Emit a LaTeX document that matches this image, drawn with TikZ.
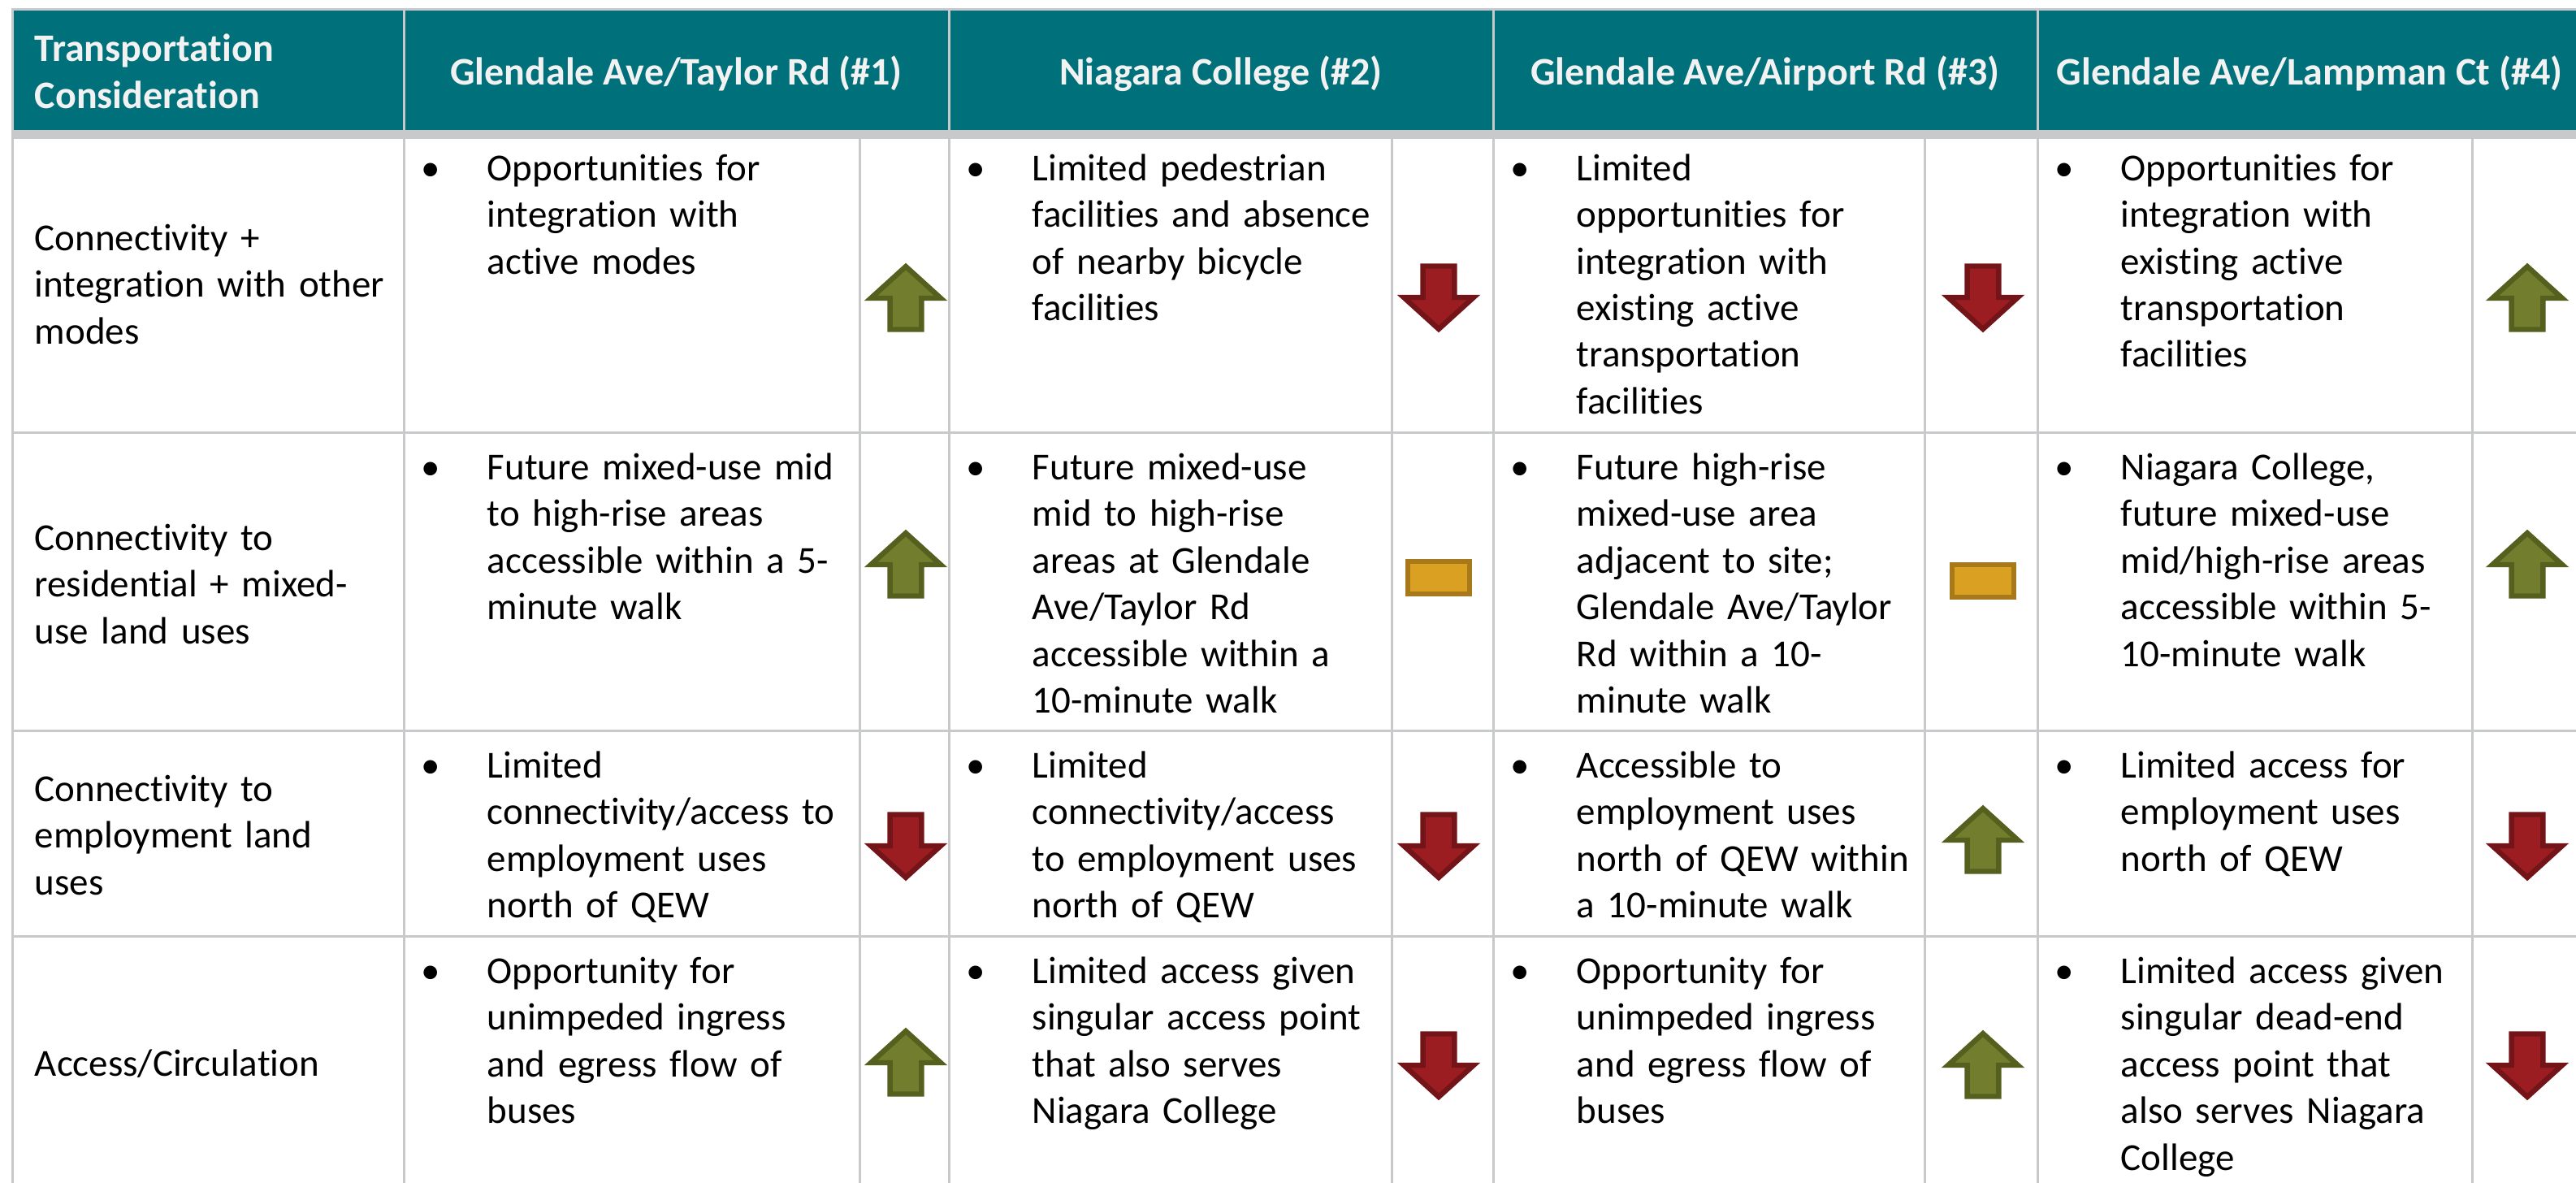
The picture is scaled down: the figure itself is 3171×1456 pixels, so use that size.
\documentclass[tikz,border=0pt]{standalone}
\usepackage{fontspec}
\setmainfont{Carlito}[Ligatures=NoCommon]
\definecolor{tealhd}{HTML}{00707A}
\definecolor{gridg}{HTML}{C8C9CB}
\definecolor{upfill}{HTML}{737D2E}
\definecolor{updraw}{HTML}{55601F}
\definecolor{dnfill}{HTML}{9B1D22}
\definecolor{dndraw}{HTML}{731419}
\definecolor{midfill}{HTML}{DAA022}
\definecolor{middraw}{HTML}{A8791A}
\newcommand{\bodyfont}{\fontsize{11.75pt}{14.375pt}\selectfont}
\newcommand{\headfont}{\fontsize{12pt}{14.5pt}\selectfont\bfseries}
\begin{document}
\begin{tikzpicture}[x=0.25pt,y=-0.25pt,
  bodytxt/.style={anchor=base west, inner sep=0pt, align=left, text width=150pt, font=\bodyfont},
  bul/.style={anchor=base, inner sep=0pt, font=\bodyfont},
  headtxt/.style={anchor=base, inner sep=0pt, font=\headfont, text=white!95!black},
  gridline/.style={draw=gridg, line width=0.75pt},
  uparw/.pic={\draw[draw=updraw, fill=upfill, line width=1.6pt, line join=miter]
     (0,5) -- (43,44) -- (19.4,44) -- (19.4,82.5) -- (-19.4,82.5) -- (-19.4,44) -- (-43,44) -- cycle;},
  dnarw/.pic={\draw[draw=dndraw, fill=dnfill, line width=1.6pt, line join=miter]
     (0,80) -- (43,41) -- (19.4,41) -- (19.4,2.5) -- (-19.4,2.5) -- (-19.4,41) -- (-43,41) -- cycle;},
  midbar/.pic={\draw[draw=middraw, fill=midfill, line width=1.6pt, line join=miter]
     (-38.25,-20.25) rectangle (38.25,20.25);}
]
\useasboundingbox (0,0) rectangle (3171,1456);
\clip (0,0) rectangle (3171,1456);
% header background
\fill[tealhd] (15,12) rectangle (3185,161);
\fill[gridg] (15,160) rectangle (3185,170.5);
% grid
\draw[gridline] (15,11.5) -- (3185,11.5);
\foreach \yy in {532,899,1152} \draw[gridline] (15,\yy) -- (3185,\yy);
\foreach \xx in {15,497.5,1168,1838,2508} \draw[gridline] (\xx,10) -- (\xx,1470);
\foreach \xx in {1058,1713,2369,3043} \draw[gridline] (\xx,161) -- (\xx,1470);
% header text
\node[headtxt, anchor=base west, align=left, text width=150pt] (h0) at (42,75) {Transportation\\Consideration};
\node[headtxt] (h1) at (832.5,104.5) {Glendale Ave/Taylor Rd (\#1)};
\node[headtxt] (h2) at (1503,104.5) {Niagara College (\#2)};
\node[headtxt] (h3) at (2173,104.5) {Glendale Ave/Airport Rd (\#3)};
\node[headtxt] (h4) at (2843,104.5) {Glendale Ave/Lampman Ct (\#4)};
% column 1
\node[bodytxt] (r1c0) at (42,308) {Connectivity +\\integration with other\\modes};
\node[bodytxt] (r2c0) at (42,677) {Connectivity to\\residential + mixed-\\use land uses};
\node[bodytxt] (r3c0) at (42,986) {Connectivity to\\employment land\\uses};
\node[bodytxt] (r4c0) at (42,1324) {Access/Circulation};
% row 1
\node[bul] (b11) at (530,222) {•};
\node[bodytxt] (r1c1) at (599,222) {Opportunities for\\integration with\\active modes};
\node[bul] (b12) at (1201,222) {•};
\node[bodytxt] (r1c2) at (1270,222) {Limited pedestrian\\facilities and absence\\of nearby bicycle\\facilities};
\node[bul] (b13) at (1871,222) {•};
\node[bodytxt] (r1c3) at (1940,222) {Limited\\opportunities for\\integration with\\existing active\\transportation\\facilities};
\node[bul] (b14) at (2541,222) {•};
\node[bodytxt] (r1c4) at (2610,222) {Opportunities for\\integration with\\existing active\\transportation\\facilities};
% row 2
\node[bul] (b21) at (530,590) {•};
\node[bodytxt] (r2c1) at (599,590) {Future mixed-use mid\\to high-rise areas\\accessible within a 5-\\minute walk};
\node[bul] (b22) at (1201,590) {•};
\node[bodytxt] (r2c2) at (1270,590) {Future mixed-use\\mid to high-rise\\areas at Glendale\\Ave/Taylor Rd\\accessible within a\\10-minute walk};
\node[bul] (b23) at (1871,590) {•};
\node[bodytxt] (r2c3) at (1940,590) {Future high-rise\\mixed-use area\\adjacent to site;\\Glendale Ave/Taylor\\Rd within a 10-\\minute walk};
\node[bul] (b24) at (2541,590) {•};
\node[bodytxt] (r2c4) at (2610,590) {Niagara College,\\future mixed-use\\mid/high-rise areas\\accessible within 5-\\10-minute walk};
% row 3
\node[bul] (b31) at (530,957) {•};
\node[bodytxt] (r3c1) at (599,957) {Limited\\connectivity/access to\\employment uses\\north of QEW};
\node[bul] (b32) at (1201,957) {•};
\node[bodytxt] (r3c2) at (1270,957) {Limited\\connectivity/access\\to employment uses\\north of QEW};
\node[bul] (b33) at (1871,957) {•};
\node[bodytxt] (r3c3) at (1940,957) {Accessible to\\employment uses\\north of QEW within\\a 10-minute walk};
\node[bul] (b34) at (2541,957) {•};
\node[bodytxt] (r3c4) at (2610,957) {Limited access for\\employment uses\\north of QEW};
% row 4
\node[bul] (b41) at (530,1210) {•};
\node[bodytxt] (r4c1) at (599,1210) {Opportunity for\\unimpeded ingress\\and egress flow of\\buses};
\node[bul] (b42) at (1201,1210) {•};
\node[bodytxt] (r4c2) at (1270,1210) {Limited access given\\singular access point\\that also serves\\Niagara College};
\node[bul] (b43) at (1871,1210) {•};
\node[bodytxt] (r4c3) at (1940,1210) {Opportunity for\\unimpeded ingress\\and egress flow of\\buses};
\node[bul] (b44) at (2541,1210) {•};
\node[bodytxt] (r4c4) at (2610,1210) {Limited access given\\singular dead-end\\access point that\\also serves Niagara\\College};
% rating symbols
\pic at (1115,323) {uparw};
\pic at (1771,325) {dnarw};
\pic at (2441,325) {dnarw};
\pic at (3111,323) {uparw};
\pic at (1115,651) {uparw};
\pic at (1771,711) {midbar};
\pic at (2441,715) {midbar};
\pic at (3111,651) {uparw};
\pic at (1115,1000) {dnarw};
\pic at (1771,1000) {dnarw};
\pic at (2441,990) {uparw};
\pic at (3111,1000) {dnarw};
\pic at (1115,1264) {uparw};
\pic at (1771,1270) {dnarw};
\pic at (2441,1267) {uparw};
\pic at (3111,1270) {dnarw};
\end{tikzpicture}
\end{document}
